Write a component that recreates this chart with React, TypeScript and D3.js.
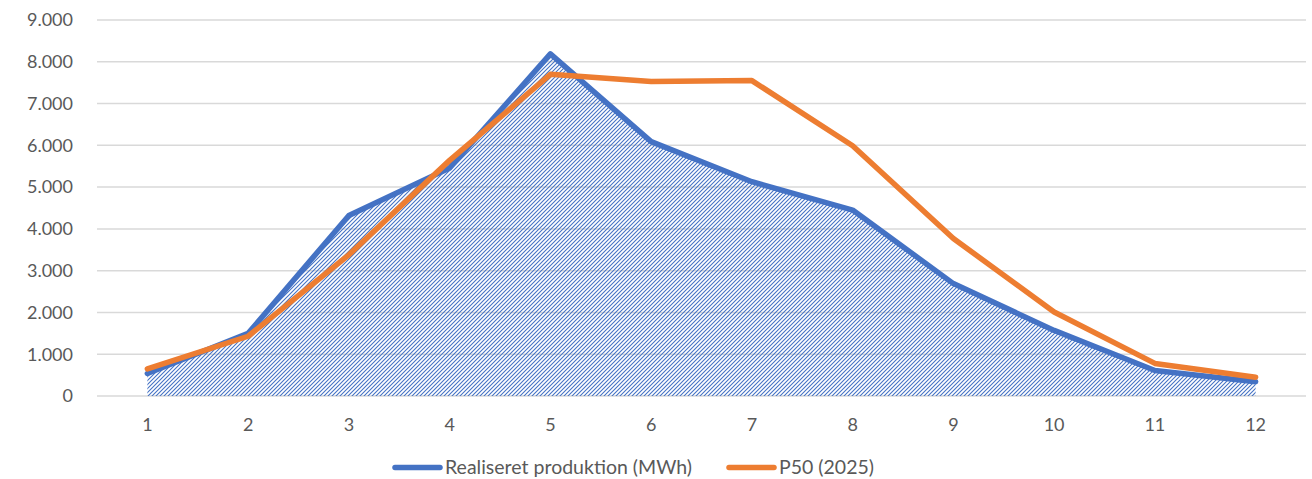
import * as d3 from "d3";
import { useEffect, useRef } from "react";

const months = ["1", "2", "3", "4", "5", "6", "7", "8", "9", "10", "11", "12"];
const realised = [540, 1500, 4320, 5460, 8190, 6090, 5130, 4450, 2690, 1570, 610, 340];
const p50 = [650, 1430, 3380, 5640, 7700, 7530, 7550, 5990, 3770, 2010, 780, 450];
const yTicks = [0, 1000, 2000, 3000, 4000, 5000, 6000, 7000, 8000, 9000];
const seriesNames = ["Realiseret produktion (MWh)", "P50 (2025)"];

const width = 1312,
  height = 479;
const margin = { top: 20, right: 6, bottom: 83, left: 97 };
const blue = "#4472C4",
  orange = "#ED7D31";

const fmt = (v: number) => d3.format(",")(v).replace(/,/g, ".");

const App = () => {
  const ref = useRef<SVGSVGElement>(null);

  useEffect(() => {
    const svg = d3.select(ref.current);
    svg.selectAll("*").remove();

    const x = d3
      .scaleBand()
      .domain(months)
      .range([margin.left, width - margin.right]);
    const y = d3
      .scaleLinear()
      .domain([0, 9000])
      .range([height - margin.bottom, margin.top]);
    const cx = (d: string) => (x(d) as number) + x.bandwidth() / 2;

    // light upward diagonal hatch
    const defs = svg.append("defs");
    const pat = defs
      .append("pattern")
      .attr("id", "hatch")
      .attr("patternUnits", "userSpaceOnUse")
      .attr("width", 4)
      .attr("height", 4);
    pat
      .append("path")
      .attr("d", "M-1,1 l2,-2 M0,4 l4,-4 M3,5 l2,-2")
      .attr("stroke", blue)
      .attr("stroke-width", 1.1);

    const font = "Lato, 'Open Sans', sans-serif";

    // gridlines
    svg
      .append("g")
      .selectAll("line")
      .data(yTicks)
      .join("line")
      .attr("x1", margin.left)
      .attr("x2", width - margin.right)
      .attr("y1", (d) => y(d))
      .attr("y2", (d) => y(d))
      .attr("stroke", "#D9D9D9")
      .attr("stroke-width", 1.5);

    // y labels
    svg
      .append("g")
      .selectAll("text")
      .data(yTicks)
      .join("text")
      .attr("x", 73)
      .attr("y", (d) => y(d))
      .attr("dy", "0.35em")
      .attr("text-anchor", "end")
      .attr("fill", "#595959")
      .attr("font-family", font)
      .attr("font-size", 18)
      .text((d) => fmt(d));

    // x labels
    svg
      .append("g")
      .selectAll("text")
      .data(months)
      .join("text")
      .attr("x", (d) => cx(d))
      .attr("y", 425)
      .attr("dy", "0.35em")
      .attr("text-anchor", "middle")
      .attr("fill", "#595959")
      .attr("font-family", font)
      .attr("font-size", 18)
      .text((d) => d);

    // hatched area under realised production
    const area = d3
      .area<number>()
      .x((_, i) => cx(months[i]))
      .y0(y(0))
      .y1((d) => y(d));
    svg.append("path").datum(realised).attr("d", area).attr("fill", "url(#hatch)");

    const line = d3
      .line<number>()
      .x((_, i) => cx(months[i]))
      .y((d) => y(d));

    svg
      .append("path")
      .datum(realised)
      .attr("d", line)
      .attr("fill", "none")
      .attr("stroke", blue)
      .attr("stroke-width", 5.5)
      .attr("stroke-linejoin", "round")
      .attr("stroke-linecap", "round");

    svg
      .append("path")
      .datum(p50)
      .attr("d", line)
      .attr("fill", "none")
      .attr("stroke", orange)
      .attr("stroke-width", 5.5)
      .attr("stroke-linejoin", "round")
      .attr("stroke-linecap", "round");

    // legend
    const legend = [
      { name: seriesNames[0], color: blue, x: 395 },
      { name: seriesNames[1], color: orange, x: 729 },
    ];
    const lg = svg
      .append("g")
      .selectAll("g")
      .data(legend)
      .join("g")
      .attr("transform", (d) => "translate(" + d.x + ",467.5)");
    lg.append("line")
      .attr("x1", 0)
      .attr("x2", 45)
      .attr("stroke", (d) => d.color)
      .attr("stroke-width", 5.5)
      .attr("stroke-linecap", "round");
    lg.append("text")
      .attr("x", 50)
      .attr("dy", "0.35em")
      .attr("fill", "#595959")
      .attr("font-family", font)
      .attr("font-size", 19.5)
      .text((d) => d.name);
  }, []);

  return (
    <div style={{ position: "absolute", left: 0, top: 0 }}>
      <svg ref={ref} width={width} height={height} style={{ display: "block" }} />
    </div>
  );
};

export default App;
